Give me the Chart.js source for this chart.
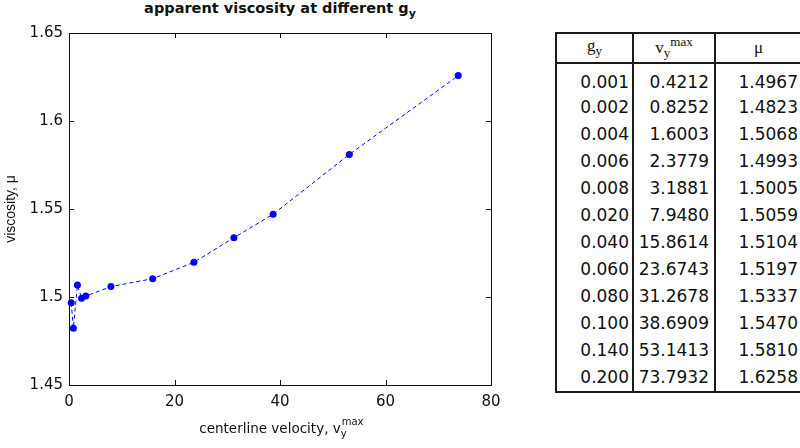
<!DOCTYPE html>
<html>
<head>
<meta charset="utf-8">
<script src="https://cdn.jsdelivr.net/npm/chart.js@4"></script>
<style>
  html, body { margin: 0; padding: 0; background: #fff; }
  body { width: 800px; height: 448px; position: relative; overflow: hidden; }
  #plot { position: absolute; left: 0; top: 0; width: 520px; height: 448px; }
  .title {
    position: absolute; left: 30px; width: 500px; top: 0; line-height: 20px;
    text-align: center; font: bold 14.5px "DejaVu Sans", sans-serif; color: #111;
  }
  .title sub { font-size: 11px; vertical-align: -4px; }
  .xlabel {
    position: absolute; left: 30px; width: 500px; top: 420px; line-height: 20px;
    text-align: center; font: 13.5px "DejaVu Sans", sans-serif; color: #111;
  }
  .ss { display: inline-block; position: relative; width: 20px; height: 10px; }
  .ss .sp { position: absolute; left: 1px; top: -6px; font-size: 10px; line-height: 10px; }
  .ss .sb { position: absolute; left: 0; top: 6px; font-size: 10px; line-height: 10px; }
  #tbl {
    position: absolute; left: 555px; top: 32px; border-collapse: collapse;
    table-layout: fixed; width: 245px;
  }
  #tbl th, #tbl td { padding: 0; border-left: 2px solid #1a1a1a; }
  #tbl th {
    height: 28px; border-top: 2px solid #1a1a1a; border-bottom: 2px solid #1a1a1a;
    font: 17px "Liberation Serif", serif; font-weight: normal; text-align: center; color: #111;
  }
  #tbl th sub, #tbl th sup { font-size: 13px; }
  #tbl td {
    height: 27px; line-height: 27px; text-align: right;
    font: 17px "DejaVu Sans", sans-serif; color: #111;
  }
  #tbl tbody tr:first-child td { height: 29.5px; line-height: 24px; vertical-align: bottom; }
  #tbl tbody tr:last-child td { border-bottom: 2px solid #1a1a1a; }
  #tbl td.c1 { padding-right: 3px; }
  #tbl td.c2 { padding-right: 5px; }
  #tbl td.c3 { padding-right: 3px; }
</style>
</head>
<body>
<div class="title">apparent viscosity at different g<sub>y</sub></div>
<div id="plot"><canvas id="myChart"></canvas></div>
<div class="xlabel">centerline velocity, v<span class="ss"><span class="sp">max</span><span class="sb">y</span></span></div>
<table id="tbl">
  <colgroup><col style="width:77px"><col style="width:82px"><col style="width:86px"></colgroup>
  <thead><tr><th>g<sub>y</sub></th><th>v<sub>y</sub><sup>max</sup></th><th>μ</th></tr></thead>
  <tbody id="tbody"></tbody>
</table>
<script>
const gy = ['0.001', '0.002', '0.004', '0.006', '0.008', '0.020', '0.040', '0.060', '0.080', '0.100', '0.140', '0.200'];
const vmax = [0.4212, 0.8252, 1.6003, 2.3779, 3.1881, 7.9480, 15.8614, 23.6743, 31.2678, 38.6909, 53.1413, 73.7932];
const mu = [1.4967, 1.4823, 1.5068, 1.4993, 1.5005, 1.5059, 1.5104, 1.5197, 1.5337, 1.5470, 1.5810, 1.6258];

const xTicks = [0, 20, 40, 60, 80];
const yTicks = [1.45, 1.5, 1.55, 1.6, 1.65];

// table beside the plot
const tbody = document.getElementById('tbody');
gy.forEach((g, i) => {
    const tr = document.createElement('tr');
    tr.innerHTML = '<td class="c1">' + g + '</td>' +
        '<td class="c2">' + vmax[i].toFixed(4) + '</td>' +
        '<td class="c3">' + mu[i].toFixed(4) + '</td>';
    tbody.appendChild(tr);
});

const points = vmax.map((v, i) => ({ x: v, y: mu[i] }));

// box around the axes plus inward tick marks, matlab style
const boxTicks = {
    id: 'boxTicks',
    afterDraw(chart) {
        const { ctx, chartArea: a, scales } = chart;
        const len = 5;
        ctx.save();
        ctx.strokeStyle = '#111';
        ctx.lineWidth = 1;
        ctx.strokeRect(a.left + 0.5, a.top + 0.5, a.right - a.left, a.bottom - a.top);
        ctx.beginPath();
        xTicks.forEach(v => {
            const px = Math.round(scales.x.getPixelForValue(v)) + 0.5;
            ctx.moveTo(px, a.bottom); ctx.lineTo(px, a.bottom - len);
            ctx.moveTo(px, a.top); ctx.lineTo(px, a.top + len);
        });
        yTicks.forEach(v => {
            const py = Math.round(scales.y.getPixelForValue(v)) + 0.5;
            ctx.moveTo(a.left, py); ctx.lineTo(a.left + len, py);
            ctx.moveTo(a.right, py); ctx.lineTo(a.right - len, py);
        });
        ctx.stroke();
        ctx.restore();
    }
};

const tickFont = { family: '"DejaVu Sans", sans-serif', size: 15 };

const config = {
    type: 'line',
    data: {
        datasets: [{
            data: points,
            borderColor: '#0000ff',
            backgroundColor: '#0000ff',
            borderWidth: 1,
            borderDash: [4, 3],
            pointRadius: 3.5,
            pointBorderWidth: 0,
            tension: 0,
            clip: false,
        }]
    },
    options: {
        responsive: true,
        maintainAspectRatio: false,
        animation: false,
        layout: { padding: { top: 33, right: 29, left: 0, bottom: 0 } },
        plugins: { legend: { display: false }, tooltip: { enabled: false } },
        scales: {
            x: {
                type: 'linear', min: 0, max: 80,
                grid: { display: false, drawTicks: false },
                border: { display: false },
                afterBuildTicks: (s) => { s.ticks = xTicks.map(v => ({ value: v })); },
                ticks: { padding: 8, color: '#111', font: tickFont, maxRotation: 0 },
                afterFit: (s) => { s.height = 63; },
            },
            y: {
                type: 'linear', min: 1.45, max: 1.65,
                grid: { display: false, drawTicks: false },
                border: { display: false },
                afterBuildTicks: (s) => { s.ticks = yTicks.map(v => ({ value: v })); },
                ticks: {
                    padding: 6, color: '#111', font: tickFont,
                    callback: (v) => String(Number(v.toFixed(2)))
                },
                title: {
                    display: true, text: 'viscosity, μ', color: '#111',
                    font: { family: 'Arial, "Liberation Sans", sans-serif', size: 14 },
                    padding: { top: 3, bottom: 0 }
                },
                afterFit: (s) => { s.width = 69; },
            }
        }
    },
    plugins: [boxTicks]
};

const myChart = new Chart(document.getElementById('myChart'), config);
</script>
</body>
</html>
